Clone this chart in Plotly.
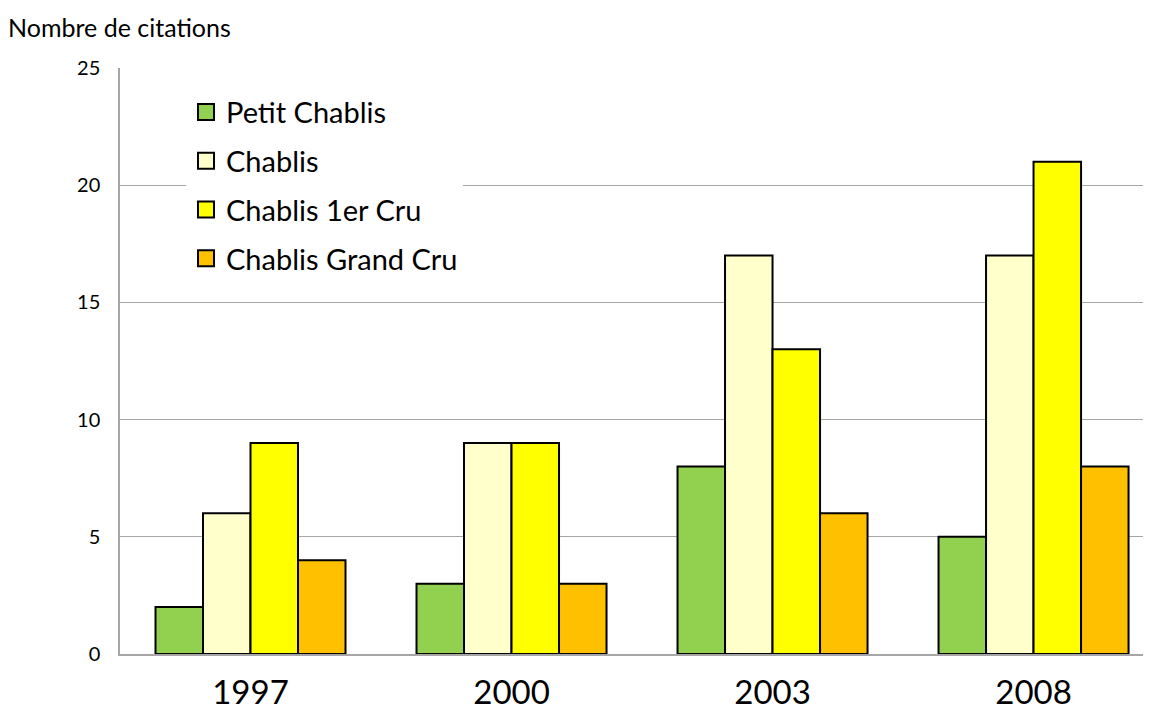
import plotly.graph_objects as go

years = ["1997", "2000", "2003", "2008"]
series_names = ["Petit Chablis", "Chablis", "Chablis 1er Cru", "Chablis Grand Cru"]
petit_chablis = [2, 3, 8, 5]
chablis = [6, 9, 17, 17]
premier_cru = [9, 9, 13, 21]
grand_cru = [4, 3, 6, 8]
colors = ["#92D050", "#FFFFCC", "#FFFF00", "#FFC000"]

FONT = "Lato, 'Open Sans', sans-serif"
# page body has an 8px margin, so the figure is a bit smaller than the window
W, H = 1143, 708

fig = go.Figure()
for name, vals, col in zip(series_names, [petit_chablis, chablis, premier_cru, grand_cru], colors):
    fig.add_trace(go.Bar(
        x=years, y=vals, name=name,
        marker=dict(color=col, line=dict(color="black", width=2)),
        showlegend=False,
    ))
    # legend proxy with a bigger square swatch
    fig.add_trace(go.Scatter(
        x=[None], y=[None], mode="markers", name=name, legendgroup=name,
        marker=dict(symbol="square", size=16, color=col, line=dict(color="black", width=2)),
    ))

fig.update_layout(
    width=W, height=H,
    margin=dict(l=112, r=0, t=60, b=62, autoexpand=False),
    paper_bgcolor="white", plot_bgcolor="white",
    font=dict(family=FONT, color="black"),
    barmode="group", bargap=0.272, bargroupgap=0,
    title=dict(text="Nombre de citations", x=0, xanchor="left",
               xref="container", y=1 - 20 / H, yanchor="middle",
               font=dict(size=25, family=FONT, color="black")),
    legend=dict(x=0.064, y=0.968, xanchor="left", yanchor="top",
                bgcolor="white", borderwidth=0, tracegroupgap=8,
                entrywidth=330, font=dict(size=29, family=FONT, color="black")),
    xaxis=dict(range=[-0.5, 3.45], showgrid=False, showline=True, automargin=False,
               linecolor="#a6a6a6", linewidth=1.5, ticks="",
               ticklabelstandoff=9, tickfont=dict(size=33, family=FONT)),
    yaxis=dict(range=[0, 25], dtick=5, showgrid=True, gridcolor="#a6a6a6",
               gridwidth=1, showline=True, linecolor="#a6a6a6", linewidth=1.5,
               zeroline=False, ticks="", ticklabelstandoff=14, automargin=False,
               tickfont=dict(size=20, family=FONT)),
)

fig.write_html("out.html")
